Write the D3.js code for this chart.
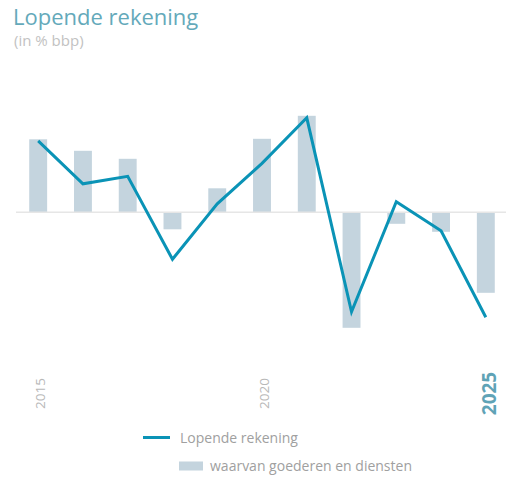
<!DOCTYPE html>
<html>
<head>
<meta charset="utf-8">
<script src="https://cdn.jsdelivr.net/npm/d3@7"></script>
<style>
  body { margin: 0; background: #fff; font-family: "Open Sans", "Noto Sans", sans-serif; }
</style>
</head>
<body>
<div id="chart"></div>
<script>
// years on the x axis
var years = [2015, 2016, 2017, 2018, 2019, 2020, 2021, 2022, 2023, 2024, 2025];
// Lopende rekening (line), in % bbp
var currentAccount = [1.43, 0.57, 0.72, -0.94, 0.17, 0.98, 1.89, -1.99, 0.21, -0.37, -2.10];
// waarvan goederen en diensten (bars)
var goodsServices = [1.46, 1.23, 1.07, -0.34, 0.48, 1.47, 1.93, -2.31, -0.23, -0.39, -1.61];
var tickLabels = ["2015", "2020", "2025"];

var width = 506, height = 477;
var lineColor = "#0a93b6", barColor = "#c4d4de";

var svg = d3.select("#chart").append("svg")
  .attr("width", width)
  .attr("height", height);

// title
svg.append("text")
  .attr("x", 13).attr("y", 25)
  .attr("font-size", 22)
  .attr("fill", "#64a9ba")
  .text("Lopende rekening");
svg.append("text")
  .attr("x", 14).attr("y", 46)
  .attr("font-size", 15)
  .attr("fill", "#c2c2c2")
  .text("(in % bbp)");

var x = d3.scaleBand()
  .domain(years)
  .range([15.8, 508.2])
  .paddingInner(0.6)
  .paddingOuter(0.3);

var y = d3.scaleLinear()
  .domain([-3, 3])
  .range([362.3, 62.3]);

// bars
svg.selectAll("rect.bar")
  .data(goodsServices)
  .enter()
  .append("rect")
  .attr("class", "bar")
  .attr("x", function(d, i) { return x(years[i]); })
  .attr("width", x.bandwidth())
  .attr("y", function(d) { return y(Math.max(0, d)); })
  .attr("height", function(d) { return Math.abs(y(d) - y(0)); })
  .attr("fill", barColor);

// zero line
svg.append("line")
  .attr("x1", 16).attr("x2", width)
  .attr("y1", y(0)).attr("y2", y(0))
  .attr("stroke", "#e6e6e6")
  .attr("stroke-width", 1.5);

// line
var line = d3.line()
  .x(function(d, i) { return x(years[i]) + x.bandwidth() / 2; })
  .y(function(d) { return y(d); });

svg.append("path")
  .datum(currentAccount)
  .attr("d", line)
  .attr("fill", "none")
  .attr("stroke", lineColor)
  .attr("stroke-width", 3)
  .attr("stroke-linejoin", "miter");

// year labels, rotated
svg.selectAll("text.year")
  .data(tickLabels)
  .enter()
  .append("text")
  .attr("class", "year")
  .attr("transform", function(d) {
    var cx = x(+d) + x.bandwidth() / 2 + (d === "2025" ? 10.5 : 7);
    return "translate(" + cx + ",393.5) rotate(-90)";
  })
  .attr("text-anchor", "middle")
  .attr("font-size", function(d) { return d === "2025" ? 19 : 13.5; })
  .attr("font-weight", function(d) { return d === "2025" ? "bold" : "normal"; })
  .attr("fill", function(d) { return d === "2025" ? "#5fa3b6" : "#b8b8b8"; })
  .text(function(d) { return d; });

// legend
var legend = svg.append("g");
legend.append("line")
  .attr("x1", 143).attr("x2", 170)
  .attr("y1", 437.5).attr("y2", 437.5)
  .attr("stroke", lineColor)
  .attr("stroke-width", 3);
legend.append("text")
  .attr("x", 180).attr("y", 443)
  .attr("font-size", 14)
  .attr("fill", "#a0a0a0")
  .text("Lopende rekening");
legend.append("rect")
  .attr("x", 179).attr("y", 461.5)
  .attr("width", 24).attr("height", 9)
  .attr("fill", barColor);
legend.append("text")
  .attr("x", 210).attr("y", 471)
  .attr("font-size", 14)
  .attr("fill", "#a0a0a0")
  .text("waarvan goederen en diensten");
</script>
</body>
</html>
